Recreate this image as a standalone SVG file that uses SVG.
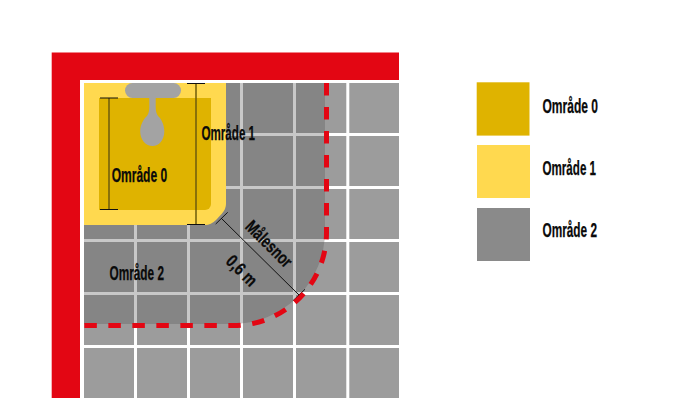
<svg xmlns="http://www.w3.org/2000/svg" width="691" height="415" viewBox="0 0 691 415">
<style>
.t{font-family:"Liberation Sans Narrow","Liberation Sans",sans-serif;font-weight:700;font-size:20px;fill:#0a0a0a;stroke:#0a0a0a;stroke-width:.25}
.s{font-size:18px}
.cap{stroke:#111;stroke-width:1;fill:none}
.dim{stroke:#6e5c0c;stroke-width:1.5;fill:none}
</style>
<rect width="691" height="415" fill="#fff"/>
<g id="wall"><path d="M51.700 52.500H399V80H80V398H51.700Z" fill="#e30613"/></g>
<g id="floor">
<rect x="84" y="83" width="315" height="315" fill="#9c9c9c"/>
<path d="M135.500 83V398M188.500 83V398M241.500 83V398M294.500 83V398M347.800 83V398M84 134.500H399M84 187.500H399M84 240.500H399M84 293.500H399M84 346.500H399" stroke="#fff" stroke-width="3" fill="none"/>
</g>
<g id="zone2"><path d="M84 83H325V231A93 93 0 0 1 232 324H84Z" fill="#545454" fill-opacity="0.32"/></g>
<g id="zone1"><path d="M84 83H226V204Q226 209 222 213.500L216 220Q211 225 205 225H84Z" fill="#ffd94f"/></g>
<g id="zone0"><path d="M99 98H211V204A6 6 0 0 1 205 210H99Z" fill="#dfb300"/></g>
<g id="sink" fill="#a3a3a3">
<rect x="125" y="83" width="56" height="15" rx="7.500"/>
<path d="M149.300 97H155.700V107Q155.700 113 158 116C161.500 119 164.300 125 164.300 131.500C164.300 140 159 146 152.500 146C146 146 140.200 140 140.200 131.500C140.200 125 143.500 119 147 116Q149.300 113 149.300 107Z"/>
</g>
<g id="connectors">
<path class="dim" d="M109 98V209.500M196 83.500V224"/>
<path class="cap" d="M100 98H118M100 209.500H118M187 83.500H205M187 224.500H205M215.700 224L227.700 212.300M293 300.700L305 289.300"/>
<path class="cap" d="M221 218L299 295"/>
<path d="M326.500 83V232.500A93 93 0 0 1 233.500 325.500H84" fill="none" stroke="#e30613" stroke-width="5" stroke-dasharray="12.500 11.500"/>
</g>
<g id="labels">
<text class="t" x="111.700" y="181.700" textLength="55.500" lengthAdjust="spacingAndGlyphs">Område 0</text>
<text class="t" x="201.500" y="140" textLength="53.500" lengthAdjust="spacingAndGlyphs">Område 1</text>
<text class="t" x="109.500" y="280" textLength="54.500" lengthAdjust="spacingAndGlyphs">Område 2</text>
<text class="t s" transform="translate(269 244) rotate(45)" x="-29" y="6" textLength="58" lengthAdjust="spacingAndGlyphs">Målesnor</text>
<text class="t s" transform="translate(241.700 270.700) rotate(45)" x="-18" y="6" textLength="36" lengthAdjust="spacingAndGlyphs">0,6 m</text>
</g>
<g id="legend0"><rect x="476.700" y="82.300" width="52.800" height="53.300" fill="#dfb300"/><text class="t" x="542.500" y="112.700" textLength="55.500" lengthAdjust="spacingAndGlyphs">Område 0</text></g>
<g id="legend1"><rect x="477" y="145" width="53" height="53" fill="#ffd94f"/><text class="t" x="542.500" y="175" textLength="53.500" lengthAdjust="spacingAndGlyphs">Område 1</text></g>
<g id="legend2"><rect x="477" y="208" width="53" height="53" fill="#8a8a8a"/><text class="t" x="542.500" y="237" textLength="54.500" lengthAdjust="spacingAndGlyphs">Område 2</text></g>
</svg>
